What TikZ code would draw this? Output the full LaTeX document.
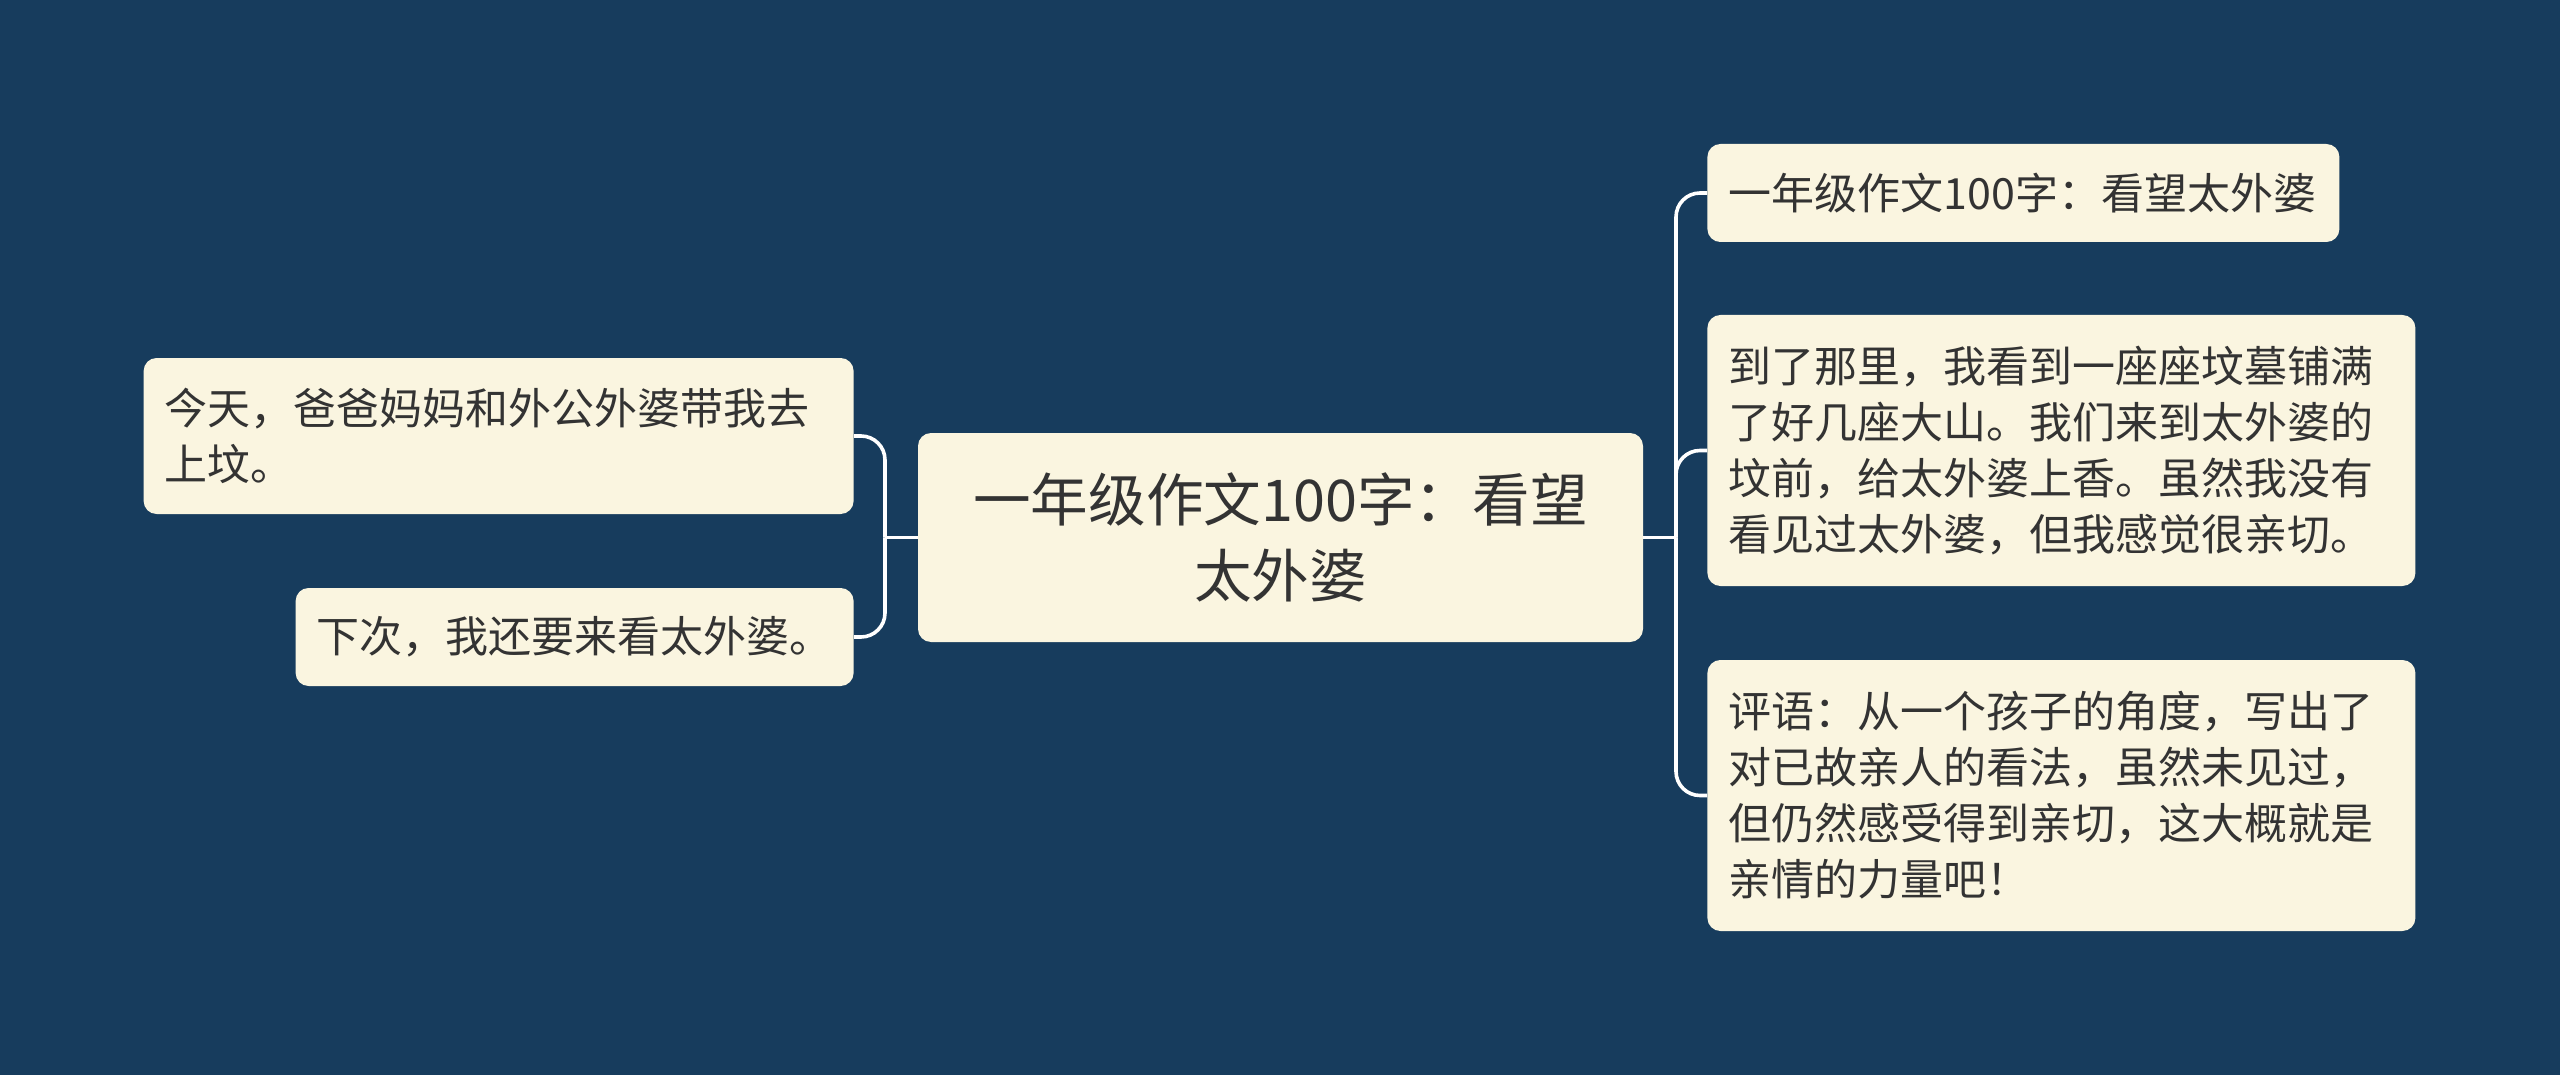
\documentclass[tikz,border=0pt]{standalone}
\usepackage{fontspec}
\usepackage{xcolor}
\usepackage{tikz}
\usetikzlibrary{positioning, calc}
\newfontfamily\cjk{Noto Sans CJK SC}
\definecolor{fondo}{HTML}{173C5D}
\definecolor{crema}{HTML}{FAF5E0}
\definecolor{tinta}{HTML}{333333}

\begin{document}
\begin{tikzpicture}[x=0.5pt, y=-0.5pt,
      leaf/.style={rectangle, rounded corners=6.5pt, fill=crema, text=tinta,
                   align=left, inner xsep=10.5pt, inner ysep=0pt,
                   font=\cjk\fontsize{21.5}{28}\selectfont},
      topic/.style={leaf, align=center, minimum width=362.5pt, minimum height=104.5pt,
                    font=\cjk\fontsize{28.8}{38.4}\selectfont},
      link/.style={draw=white, line width=1.8pt, rounded corners=12pt}]

    \fill[fondo] (0,0) rectangle (2560,1075);
    \useasboundingbox (0,0) rectangle (2560,1075);

    \node[topic] (root) at (1280.5,537.5) {一年级作文100字：看望\\太外婆};

    \node[leaf, anchor=east, text width=334pt, minimum height=78pt] (L1) at (854,436)
      {今天，爸爸妈妈和外公外婆带我去\\上坟。};
    \node[leaf, anchor=east, text width=258pt, minimum height=49pt] (L2) at (854,637)
      {下次，我还要来看太外婆。};

    \node[leaf, anchor=west, text width=295pt, minimum height=49pt] (R1) at (1707,193)
      {一年级作文100字：看望太外婆};
    \node[leaf, anchor=west, text width=333pt, minimum height=135.5pt] (R2) at (1707,450.5)
      {到了那里，我看到一座座坟墓铺满\\了好几座大山。我们来到太外婆的\\坟前，给太外婆上香。虽然我没有\\看见过太外婆，但我感觉很亲切。};
    \node[leaf, anchor=west, text width=333pt, minimum height=135.5pt] (R3) at (1707,795.5)
      {评语：从一个孩子的角度，写出了\\对已故亲人的看法，虽然未见过，\\但仍然感受得到亲切，这大概就是\\亲情的力量吧！};

    \coordinate (busL) at (885,537.5);
    \coordinate (busR) at (1676,537.5);

    \draw[link] (root.west) -- (busL);
    \draw[link] (busL) |- (L1.east);
    \draw[link] (busL) |- (L2.east);
    \draw[link] (root.east) -- (busR);
    \draw[link] (busR) |- (R1.west);
    \draw[link] (busR) |- (R2.west);
    \draw[link] (busR) |- (R3.west);
  \end{tikzpicture}
\end{document}
